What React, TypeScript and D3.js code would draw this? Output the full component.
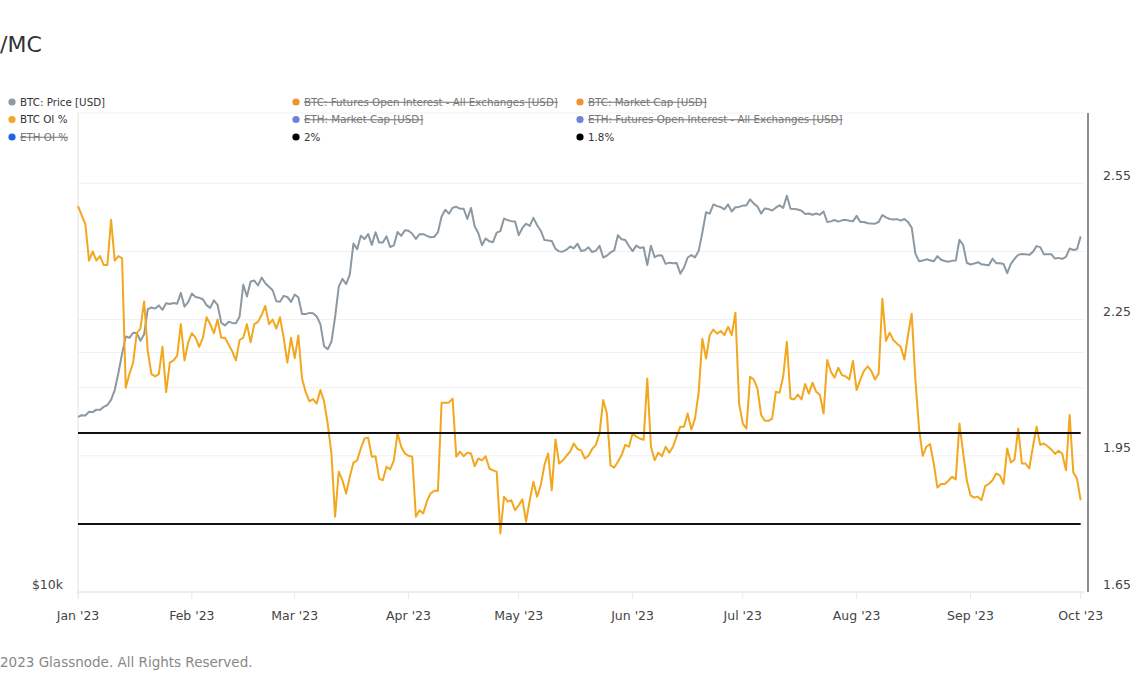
import React from "react";
import * as d3 from "d3";

// ---------- DATA ----------
const startDate = "2023-01-01";
const domainEnd = "2023-10-03";

// BTC price in thousands of USD, daily from 2023-01-01 to 2023-10-01
const btcPriceK: number[] = [
  // Jan
  16.6, 16.68, 16.67, 16.85, 16.83, 16.95, 16.94, 17.09, 17.18, 17.44, 17.94, 18.85, 19.93, 20.95, 20.87, 21.17,
  21.16, 20.69, 21.08, 22.68, 22.78, 22.71, 22.92, 22.63, 23.06, 23.01, 23.08, 23.03, 23.77, 22.84, 23.14,
  // Feb
  23.72, 23.49, 23.43, 23.33, 22.94, 22.76, 23.26, 22.96, 21.8, 21.63, 21.86, 21.79, 21.77, 22.2, 24.33, 23.52,
  24.56, 24.63, 24.28, 24.84, 24.44, 24.19, 23.95, 23.2, 23.16, 23.56, 23.49, 23.15,
  // Mar
  23.65, 23.47, 22.36, 22.35, 22.43, 22.41, 22.2, 21.71, 20.36, 20.19, 20.63, 22.16, 24.2, 24.75, 24.38, 25.06,
  27.42, 26.97, 28.04, 27.77, 28.17, 27.31, 28.33, 27.49, 27.49, 27.99, 27.14, 27.27, 28.35, 28.03, 28.48,
  // Apr
  28.45, 28.2, 27.79, 28.17, 28.17, 28.03, 27.91, 27.95, 28.33, 29.65, 30.23, 29.89, 30.4, 30.49, 30.32, 30.32,
  29.43, 30.39, 28.82, 28.25, 27.28, 27.82, 27.59, 27.52, 28.3, 28.42, 29.47, 29.34, 29.25, 29.23,
  // May
  28.09, 28.68, 29.03, 28.85, 29.53, 28.9, 28.45, 27.69, 27.65, 27.62, 26.99, 26.8, 26.78, 26.93, 27.18, 27.03,
  27.4, 26.83, 26.89, 27.12, 26.75, 26.85, 27.23, 26.33, 26.47, 26.72, 26.87, 28.09, 27.75, 27.7, 27.22,
  // Jun
  26.82, 27.25, 27.07, 27.12, 25.76, 27.24, 26.35, 26.5, 26.48, 25.85, 25.94, 25.9, 25.92, 25.12, 25.58, 26.33,
  26.51, 26.34, 26.84, 28.31, 30.01, 29.89, 30.7, 30.55, 30.47, 30.27, 30.7, 30.08, 30.45, 30.48,
  // Jul
  30.59, 30.62, 31.16, 30.77, 30.51, 29.9, 30.35, 30.29, 30.17, 30.41, 30.62, 30.39, 31.48, 30.32, 30.29, 30.25,
  30.14, 29.86, 29.91, 29.8, 29.91, 29.79, 30.08, 29.18, 29.23, 29.35, 29.21, 29.32, 29.36, 29.28, 29.23,
  // Aug
  29.7, 29.18, 29.18, 29.07, 29.05, 29.04, 29.18, 29.77, 29.57, 29.43, 29.4, 29.42, 29.3, 29.43, 29.17, 28.7,
  26.63, 26.05, 26.1, 26.19, 26.12, 26.04, 26.43, 26.16, 26.06, 26.0, 26.09, 26.1, 27.72, 27.3, 25.93,
  // Sep
  25.8, 25.87, 25.97, 25.82, 25.78, 25.75, 26.24, 25.9, 25.9, 25.84, 25.16, 25.85, 26.23, 26.53, 26.6, 26.57,
  26.53, 26.76, 27.21, 27.13, 26.57, 26.58, 26.58, 26.25, 26.3, 26.22, 26.37, 27.02, 26.91, 26.97,
  // Oct
  27.99,
];

// BTC OI % (futures open interest / market cap), daily from 2023-01-01
const btcOiPct: number[] = [
  2.5, 2.48, 2.46, 2.38, 2.4, 2.38, 2.39, 2.37, 2.37, 2.47, 2.38, 2.39, 2.385, 2.1, 2.13, 2.155, 2.22, 2.23, 2.29,
  2.18, 2.13, 2.125, 2.13, 2.19, 2.09, 2.155, 2.16, 2.17, 2.24, 2.16, 2.2, 2.22, 2.21, 2.19, 2.21, 2.255, 2.24,
  2.22, 2.25, 2.21, 2.21, 2.195, 2.18, 2.16, 2.205, 2.21, 2.24, 2.2, 2.24, 2.245, 2.26, 2.28, 2.24, 2.25, 2.23,
  2.255, 2.21, 2.155, 2.21, 2.165, 2.215, 2.12, 2.09, 2.07, 2.075, 2.065, 2.095, 2.07, 2.02, 1.955, 1.816, 1.915,
  1.896, 1.867, 1.904, 1.935, 1.94, 1.966, 1.988, 1.99, 1.948, 1.949, 1.9, 1.896, 1.926, 1.92, 1.94, 2.0, 1.97,
  1.955, 1.95, 1.948, 1.816, 1.83, 1.823, 1.85, 1.867, 1.873, 1.873, 2.067, 2.067, 2.067, 2.076, 1.948, 1.959,
  1.949, 1.957, 1.955, 1.927, 1.944, 1.94, 1.949, 1.922, 1.918, 1.915, 1.779, 1.86, 1.849, 1.852, 1.83, 1.841,
  1.854, 1.805, 1.852, 1.893, 1.86, 1.885, 1.93, 1.955, 1.874, 1.986, 1.933, 1.94, 1.95, 1.959, 1.977, 1.965,
  1.962, 1.944, 1.95, 1.965, 1.974, 1.999, 2.073, 2.043, 1.929, 1.924, 1.937, 1.951, 1.974, 1.97, 1.999, 1.992,
  1.988, 1.985, 2.12, 1.97, 1.94, 1.957, 1.949, 1.97, 1.957, 1.97, 1.993, 2.014, 2.014, 2.043, 2.008, 2.032, 2.09,
  2.208, 2.164, 2.216, 2.228, 2.219, 2.225, 2.216, 2.234, 2.216, 2.265, 2.065, 2.021, 2.01, 2.124, 2.118, 2.098,
  2.04, 2.027, 2.027, 2.032, 2.091, 2.089, 2.124, 2.201, 2.076, 2.074, 2.085, 2.074, 2.108, 2.087, 2.111, 2.091,
  2.084, 2.043, 2.161, 2.135, 2.122, 2.144, 2.128, 2.125, 2.118, 2.159, 2.095, 2.117, 2.137, 2.147, 2.137, 2.118,
  2.131, 2.296, 2.203, 2.221, 2.205, 2.197, 2.19, 2.162, 2.216, 2.263, 2.117, 2.01, 1.95, 1.97, 1.976, 1.933, 1.88,
  1.888, 1.888, 1.895, 1.904, 1.898, 2.021, 1.957, 1.896, 1.863, 1.858, 1.86, 1.852, 1.883, 1.888, 1.896, 1.911,
  1.907, 1.888, 1.966, 1.935, 1.942, 2.01, 1.933, 1.933, 1.922, 1.97, 2.014, 1.974, 1.977, 1.971, 1.964, 1.954,
  1.961, 1.954, 1.918, 2.04, 1.913, 1.9, 1.852,
];

const refLevels = [2.0, 1.8];

const rightGridTicks = [1.65, 1.8, 1.95, 2.1, 2.25, 2.4, 2.55];
const rightLabelTicks = [1.65, 1.95, 2.25, 2.55];
const leftGridTicks = [20000, 40000];
const leftLabelTicks = [10000];

const legendLabels = [
  "BTC: Price [USD]",
  "BTC: Futures Open Interest - All Exchanges [USD]",
  "BTC: Market Cap [USD]",
  "BTC OI %",
  "ETH: Market Cap [USD]",
  "ETH: Futures Open Interest - All Exchanges [USD]",
  "ETH OI %",
  "2%",
  "1.8%",
];
const legendColors = ["#8c99a1", "#f0922f", "#f0922f", "#f5a623", "#6d82d8", "#6d82d8", "#1f63e6", "#000", "#000"];
const legendActive = [true, false, false, true, false, false, false, true, true];

const titleText = "/MC";
const footerText = "2023 Glassnode. All Rights Reserved.";

// ---------- LAYOUT ----------
const W = 1140;
const H = 694;
const L = 78;
const R = 1088;
const T = 113;
const B = 592;
const FONT = "'DejaVu Sans', sans-serif";

export default function App() {
  const parse = d3.utcParse("%Y-%m-%d");
  const d0 = parse(startDate) as Date;
  const d1 = parse(domainEnd) as Date;
  const dates = btcPriceK.map((_, i) => d3.utcDay.offset(d0, i));

  const x = d3.scaleUtc().domain([d0, d1]).range([L, R]);
  const yRight = d3.scaleLinear().domain([1.65, 2.705]).range([B, T]);
  const yLeft = d3.scaleLog().domain([10000, 40000]).range([B, T]);

  const priceLine = d3
    .line<number>()
    .x((_, i) => x(dates[i]))
    .y((v) => yLeft(v * 1000));
  const oiLine = d3
    .line<number>()
    .x((_, i) => x(dates[i]))
    .y((v) => yRight(v));

  const months = d3.utcMonth.range(d0, d1);
  const fmt = d3.utcFormat("%b '%y");
  const lastX = x(dates[dates.length - 1]);

  const legendCols = [12, 296, 580];
  const legendRows = [102, 119.5, 137];

  return (
    <div style={{ position: "absolute", left: 0, top: 0, width: W, height: H, background: "#fff" }}>
      <svg width={W} height={H} style={{ display: "block", fontFamily: FONT }}>
        <rect x={0} y={0} width={W} height={H} fill="#fff" />
        <text x={0} y={52} fontSize={22} fill="#333">
          {titleText}
        </text>

        {/* gridlines */}
        {rightGridTicks.map((t) => (
          <line key={"rg" + t} x1={L} x2={R - 4} y1={yRight(t)} y2={yRight(t)} stroke="#f0f0f0" strokeWidth={1} />
        ))}
        {leftGridTicks.map((t) => (
          <line key={"lg" + t} x1={L} x2={R - 4} y1={yLeft(t)} y2={yLeft(t)} stroke="#f0f0f0" strokeWidth={1} />
        ))}

        {/* axes */}
        <line x1={L} x2={L} y1={T} y2={B + 5} stroke="#e2e2e2" strokeWidth={1} />
        <line x1={L} x2={R - 4} y1={B} y2={B} stroke="#e2e2e2" strokeWidth={1} />
        {months.map((m) => (
          <line key={"mt" + m.getTime()} x1={x(m)} x2={x(m)} y1={B} y2={B + 7} stroke="#eaeaea" strokeWidth={1} />
        ))}
        <line x1={R} x2={R} y1={T} y2={B} stroke="#444" strokeWidth={1.2} />

        {months.map((m) => (
          <text key={"ml" + m.getTime()} x={x(m)} y={620} fontSize={12.5} fill="#444" textAnchor="middle">
            {fmt(m)}
          </text>
        ))}
        {rightLabelTicks.map((t) => (
          <text key={"rl" + t} x={1103} y={yRight(t) - 3.5} fontSize={12.5} fill="#444">
            {t.toFixed(2)}
          </text>
        ))}
        {leftLabelTicks.map((t) => (
          <text key={"ll" + t} x={63} y={yLeft(t) - 3.5} fontSize={12.5} fill="#444" textAnchor="end">
            {"$" + d3.format("~s")(t).replace("k", "k")}
          </text>
        ))}

        {/* series */}
        <path d={priceLine(btcPriceK) || ""} fill="none" stroke="#8c99a2" strokeWidth={2} strokeLinejoin="round" />
        <path d={oiLine(btcOiPct) || ""} fill="none" stroke="#f2a71e" strokeWidth={2} strokeLinejoin="round" />
        {refLevels.map((r) => (
          <line key={"ref" + r} x1={L} x2={lastX} y1={yRight(r)} y2={yRight(r)} stroke="#111" strokeWidth={2} />
        ))}

        {/* legend */}
        {legendLabels.map((lab, i) => {
          const cx = legendCols[i % 3];
          const cy = legendRows[Math.floor(i / 3)];
          const active = legendActive[i];
          return (
            <g key={"lg" + i}>
              <circle cx={cx} cy={cy} r={3.6} fill={legendColors[i]} />
              <text
                x={cx + 8}
                y={cy + 3.6}
                fontSize={10.3}
                fill={active ? "#333" : "#777"}
                style={active ? undefined : { textDecoration: "line-through" }}
              >
                {lab}
              </text>
            </g>
          );
        })}

        <text x={0} y={667} fontSize={13.5} fill="#888">
          {footerText}
        </text>
      </svg>
    </div>
  );
}
